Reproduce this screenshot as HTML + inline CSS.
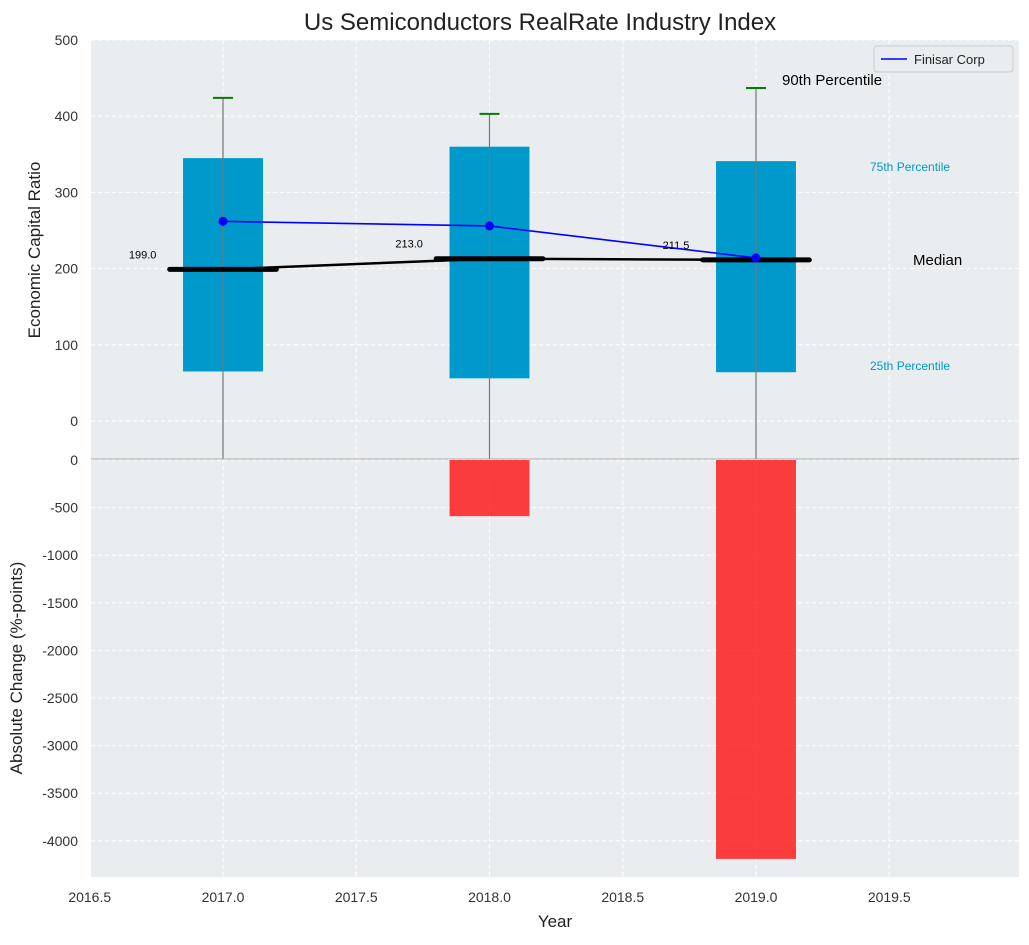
<!DOCTYPE html>
<html><head><meta charset="utf-8"><style>
body{margin:0;background:#fff;font-family:"Liberation Sans","DejaVu Sans",sans-serif}
svg text{font-family:"Liberation Sans","DejaVu Sans",sans-serif}
</style></head><body>
<svg id="chart" width="1029" height="940" xmlns="http://www.w3.org/2000/svg">
<rect width="1029" height="940" fill="#fff"/>
<g id="gbg"></g><g id="ggrid"></g><g id="gmarks"></g>
<text x="540" y="30" font-size="24" text-anchor="middle" fill="#222">Us Semiconductors RealRate Industry Index</text>
<text x="40" y="250" font-size="17" text-anchor="middle" fill="#222" transform="rotate(-90 40 250)">Economic Capital Ratio</text>
<text x="22" y="668" font-size="17" text-anchor="middle" fill="#222" transform="rotate(-90 22 668)">Absolute Change (%-points)</text>
<text x="555" y="927" font-size="17" text-anchor="middle" fill="#222">Year</text>
</svg>
<script>
const years=[2017,2018,2019];
const p25=[65,56,64];
const p75=[345,360,341];
const p90=[424,403,437];
const medians=[199,213,211.5];
const finisar=[262,256,214];
const changes=[0,-590,-4190];
const topTicks=[0,100,200,300,400,500];
const botTicks=[0,-500,-1000,-1500,-2000,-2500,-3000,-3500,-4000];
const xTicks=[2016.5,2017,2017.5,2018,2018.5,2019,2019.5];
const NS="http://www.w3.org/2000/svg";
const L=91,R=1019;
const X=v=>89.75+(v-2016.5)*266.5;
const YT=v=>421-v*0.762;
const YB=v=>460-v*(47.6/500);
function mk(p,t,a){const e=document.createElementNS(NS,t);for(const k in a)e.setAttribute(k,a[k]);p.appendChild(e);return e;}
const gBg=document.getElementById('gbg'),gGrid=document.getElementById('ggrid'),gM=document.getElementById('gmarks');
let r=mk(gBg,'rect',{x:L,y:40,width:R-L,height:419,fill:'#eaedef'});


r=mk(gBg,'rect',{x:L,y:459,width:R-L,height:418,fill:'#eaedef'});


xTicks.forEach(t=>{
 [[40,459],[459,877]].forEach(([a,b])=>{let g=mk(gGrid,'line',{x1:X(t),x2:X(t),y1:a,y2:b,stroke:'#fff','stroke-dasharray':'4,3'});
 
 });
 let tx=mk(gGrid,'text',{x:X(t),y:902,'font-size':14,'text-anchor':'middle',fill:'#333'});tx.textContent=t.toFixed(1);
 
 
});
topTicks.forEach(t=>{
 let g=mk(gGrid,'line',{x1:L,x2:R,y1:YT(t),y2:YT(t),stroke:'#fff','stroke-dasharray':'4,3'});
 
 
 let tx=mk(gGrid,'text',{x:78,y:YT(t)+5,'font-size':14,'text-anchor':'end',fill:'#333'});tx.textContent=t;
 
 
});
botTicks.forEach(t=>{
 let g=mk(gGrid,'line',{x1:L,x2:R,y1:YB(t),y2:YB(t),stroke:'#fff','stroke-dasharray':'4,3'});
 
 
 let tx=mk(gGrid,'text',{x:78,y:YB(t)+5,'font-size':14,'text-anchor':'end',fill:'#333'});tx.textContent=t;
 
 
});
const bw=X(2016.8)-X(2016.5);
years.forEach((y,i)=>{
 let b=mk(gM,'rect',{x:X(y)-bw/2,y:YT(p75[i]),width:bw,height:YT(p25[i])-YT(p75[i]),fill:'#0099cc'});
 
 
 let w=mk(gM,'line',{x1:X(y),x2:X(y),y1:YT(p90[i]),y2:459,stroke:'#777','stroke-width':1.2});
 
 
 let c=mk(gM,'line',{x1:X(y)-10,x2:X(y)+10,y1:YT(p90[i]),y2:YT(p90[i]),stroke:'green','stroke-width':2});
 
 
 let cb=mk(gM,'rect',{x:X(y)-bw/2,y:Math.min(YB(changes[i]),YB(0)),width:bw,height:Math.abs(YB(changes[i])-YB(0)),fill:'rgba(255,0,0,0.75)'});
 
 
});
let ml=mk(gM,'polyline',{points:years.map((y,i)=>X(y)+','+YT(medians[i])).join(' '),fill:'none',stroke:'#000','stroke-width':2.5});


years.forEach((y,i)=>{
 let m=mk(gM,'line',{x1:X(y-0.2),x2:X(y+0.2),y1:YT(medians[i]),y2:YT(medians[i]),stroke:'#000','stroke-width':5,'stroke-linecap':'round'});
 
 
 let t=mk(gM,'text',{x:X(y-0.25),y:YT(medians[i])-11,'font-size':11,'text-anchor':'end',fill:'#000'});t.textContent=medians[i].toFixed(1);
 
 
});
let fl=mk(gM,'polyline',{points:years.map((y,i)=>X(y)+','+YT(finisar[i])).join(' '),fill:'none',stroke:'blue','stroke-width':1.6});


years.forEach((y,i)=>{let c=mk(gM,'circle',{cx:X(y),cy:YT(finisar[i]),r:4.5,fill:'blue'});
 
 });
let zl=mk(gM,'line',{x1:L,x2:R,y1:459,y2:459,stroke:'#aaa','stroke-width':1});


const ann=[["90th Percentile",782,85,15,'#000'],["75th Percentile",870,171,12,'#0099cc'],["Median",913,265,15,'#000'],["25th Percentile",870,370,12,'#0099cc']];
ann.forEach(a=>{let t=mk(gM,'text',{x:a[1],y:a[2],'font-size':a[3],fill:a[4]});t.textContent=a[0];
 
 });
let lg=mk(gM,'g',{});


mk(lg,'rect',{x:874,y:46,width:139,height:26,fill:'#eaedef',stroke:'#ccc',rx:3});
mk(lg,'line',{x1:881,x2:907,y1:59,y2:59,stroke:'blue','stroke-width':1.6});
let lt=mk(lg,'text',{x:914,y:64,'font-size':13,fill:'#222'});lt.textContent='Finisar Corp';
</script>
</body></html>
